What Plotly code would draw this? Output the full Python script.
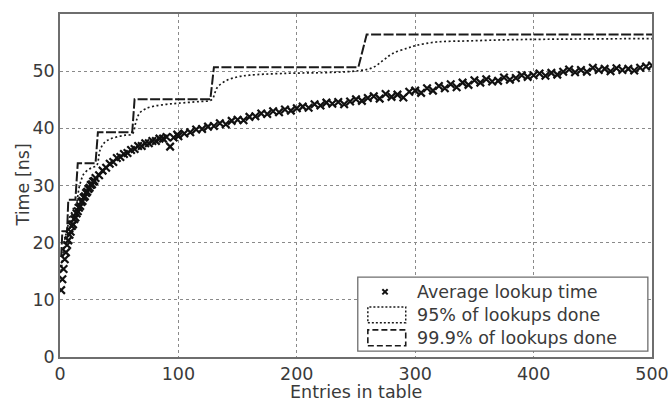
import plotly.graph_objects as go

# Average lookup time (ns) vs. number of entries in the table
avg_x = list(range(1, 31)) + list(range(33, 100, 3)) + list(range(100, 501, 5))
avg_y = [
    # 1..30
    11.7, 13.6, 15.4, 17.1, 18.3, 19.6, 20.4, 21.4, 21.9, 22.9,
    23.2, 24.1, 24.4, 25.1, 25.5, 26.1, 26.4, 27.1, 27.3, 27.9,
    28.1, 28.7, 28.9, 29.4, 29.6, 30.1, 30.2, 30.7, 30.8, 31.3,
    # 33..99 step 3
    31.8, 32.6, 33.1, 33.8, 34.1, 34.8, 35.0, 35.5, 35.7, 36.2,
    36.4, 36.9, 36.9, 37.4, 37.4, 37.8, 37.8, 38.2, 38.2, 38.5,
    36.8, 38.4, 38.9,
    # 100..500 step 5
    38.6, 39.1, 39.3, 39.8, 39.9, 40.3, 40.4, 40.9, 40.7, 41.3,
    41.5, 41.4, 42.0, 42.1, 42.6, 42.5, 43.0, 42.8, 43.3, 43.1,
    43.5, 43.8, 43.6, 44.2, 44.0, 44.5, 44.3, 44.6, 44.2, 44.7,
    45.1, 44.8, 45.3, 45.6, 45.2, 46.0, 45.5, 45.9, 45.4, 46.4,
    46.6, 46.2, 47.0, 46.6, 47.4, 47.0, 47.7, 47.2, 48.0, 47.6,
    48.4, 48.0, 48.6, 48.2, 48.3, 48.9, 48.5, 48.8, 49.3, 49.0,
    49.3, 49.6, 49.2, 49.7, 49.4, 49.9, 50.3, 49.8, 50.2, 49.9,
    50.6, 50.2, 50.4, 50.0, 50.5, 50.2, 50.4, 50.1, 50.6, 50.8,
    51.0,
]

# Time by which 95% of lookups are done
p95_x = [1, 2, 3, 4, 5, 6, 7, 8, 10, 12, 14, 16, 18, 20, 24, 28, 31,
         34, 38, 42, 48, 55, 61, 64, 67, 72, 80, 90, 100, 118, 128,
         133, 141, 150, 160, 188, 231, 253, 264, 273, 281, 293, 301,
         318, 346, 380, 420, 500]
p95_y = [15.0, 17.0, 19.0, 20.5, 21.5, 22.3, 23.3, 24.3, 25.3, 26.3, 27.0,
         29.5, 31.0, 32.0, 32.8, 33.2, 33.5,
         36.3, 37.6, 38.1, 38.5, 38.8, 39.0, 41.0, 42.6, 43.4, 43.9, 44.2,
         44.4, 44.7, 45.0,
         47.2, 48.4, 49.0, 49.3, 49.6, 49.8, 50.1, 50.6, 51.9, 53.1, 54.0,
         54.5, 55.1, 55.3, 55.5, 55.6, 55.7]

# Time by which 99.9% of lookups are done
p999_x = [1, 2, 6, 7, 13, 15, 30, 32, 61, 63, 127, 130, 252, 259, 500]
p999_y = [17.5, 22.0, 22.0, 27.5, 27.5, 33.9, 33.9, 39.3, 39.3, 45.1,
          45.1, 50.7, 50.7, 56.4, 56.4]

x_ticks = [0, 100, 200, 300, 400, 500]
y_ticks = [0, 10, 20, 30, 40, 50]

legend_labels = ["Average lookup time", "95% of lookups done",
                 "99.9% of lookups done"]

FONT = "DejaVu Sans, Liberation Sans, sans-serif"
FSIZE = 17.5
TEXT = "#3a3a3a"
FRAME = "#6e6e6e"

fig = go.Figure()

fig.add_trace(go.Scatter(
    x=p999_x, y=p999_y, mode="lines",
    line=dict(color="#1a1a1a", width=2, dash="10px,2.5px"),
    name=legend_labels[2], showlegend=False,
))
fig.add_trace(go.Scatter(
    x=p95_x, y=p95_y, mode="lines", line_shape="spline",
    line=dict(color="#1a1a1a", width=1.7, dash="2px,2.5px"),
    name=legend_labels[1], showlegend=False,
))
fig.add_trace(go.Scatter(
    x=avg_x, y=avg_y, mode="markers",
    marker=dict(symbol="x-thin", size=7.5, line=dict(color="#111111", width=2.2)),
    name=legend_labels[0], showlegend=False,
))

# Legend drawn as a boxed key in the lower right corner
lx0, lx1 = 0.503, 0.993
ly0, ly1 = 0.017, 0.233
shapes = [
    dict(type="rect", xref="paper", yref="paper", x0=lx0, x1=lx1, y0=ly0, y1=ly1,
         line=dict(color=FRAME, width=1.3), fillcolor="white", layer="above"),
]
row_y = [0.19, 0.123, 0.056]
# x marker sample
cx, cy = 0.549, row_y[0]
dx, dy = 0.0045, 0.0075
shapes.append(dict(type="path", xref="paper", yref="paper",
                   path=f"M{cx-dx},{cy-dy} L{cx+dx},{cy+dy} M{cx-dx},{cy+dy} L{cx+dx},{cy-dy}",
                   line=dict(color="#111111", width=2), layer="above"))
# dotted and dashed boxes
for ry, dash, w in [(row_y[1], "2px,2px", 1.5), (row_y[2], "6px,3px", 1.6)]:
    shapes.append(dict(type="rect", xref="paper", yref="paper",
                       x0=0.520, x1=0.584, y0=ry - 0.023, y1=ry + 0.023,
                       line=dict(color="#1a1a1a", width=w, dash=dash), layer="above"))

annotations = [
    dict(xref="paper", yref="paper", x=0.600, y=ry, text=t, showarrow=False,
         xanchor="left", yanchor="middle", font=dict(family=FONT, size=FSIZE, color=TEXT))
    for ry, t in zip(row_y, legend_labels)
]
# axis titles
annotations.append(dict(xref="paper", yref="paper", x=0.5, y=0, yshift=-35,
                        text="Entries in table", showarrow=False,
                        xanchor="center", yanchor="middle",
                        font=dict(family=FONT, size=FSIZE, color=TEXT)))
annotations.append(dict(xref="paper", yref="paper", x=0, xshift=-38, y=0.5,
                        text="Time [ns]", showarrow=False, textangle=-90,
                        xanchor="center", yanchor="middle",
                        font=dict(family=FONT, size=FSIZE, color=TEXT)))

fig.update_layout(
    width=670, height=401,
    margin=dict(l=60, r=18, t=14, b=44, autoexpand=False),
    paper_bgcolor="white", plot_bgcolor="white",
    font=dict(family=FONT, size=FSIZE, color=TEXT),
    showlegend=False,
    shapes=shapes,
    annotations=annotations,
    xaxis=dict(
        range=[0, 500], tickvals=x_ticks, ticktext=[str(v) for v in x_ticks],
        showgrid=True, gridcolor="#8a8a8a", griddash="dot", gridwidth=1,
        showline=True, linecolor=FRAME, linewidth=1.5, mirror=True,
        zeroline=False, ticks="", ticklen=0, automargin=False,
    ),
    yaxis=dict(
        range=[0, 60], tickvals=y_ticks, ticktext=[str(v) for v in y_ticks],
        showgrid=True, gridcolor="#8a8a8a", griddash="dot", gridwidth=1,
        showline=True, linecolor=FRAME, linewidth=1.5, mirror=True,
        zeroline=False, ticks="", ticklen=0, automargin=False,
    ),
)

fig.write_html("out.html")
